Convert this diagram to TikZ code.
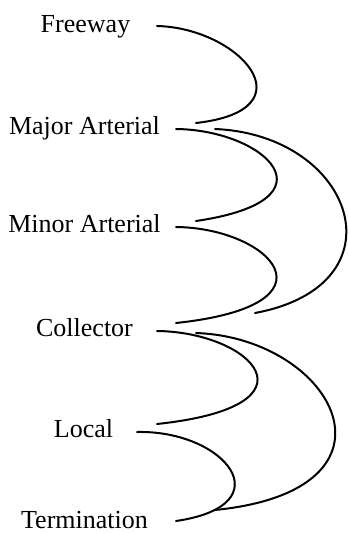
\documentclass[tikz,border=0pt]{standalone}
\usepackage{fontspec}
\setmainfont{Liberation Serif}
\begin{document}
\begin{tikzpicture}[x=1pt,y=-1pt,
  lbl/.style={anchor=base,inner sep=0pt,font=\fontsize{26}{30}\selectfont},
  link/.style={line width=2pt,line cap=round}]
\useasboundingbox (0,0) rectangle (348,534);
% labels
\node[lbl] (fw) at (85.5,33) {Freeway};
\node[lbl] (ma) at (84.5,135) {Major Arterial};
\node[lbl] (mi) at (84.5,233) {Minor Arterial};
\node[lbl] (co) at (84.5,336) {Collector};
\node[lbl] (lo) at (83.5,437) {Local};
\node[lbl] (te) at (84.5,528) {Termination};
% connector end points
\coordinate (fwR) at (157,26);
\coordinate (maIn) at (196,123);
\coordinate (maR) at (176,129);
\coordinate (maR2) at (215,129);
\coordinate (miIn) at (196,221);
\coordinate (miR) at (176,227);
\coordinate (coIn) at (176,323);
\coordinate (coIn2) at (255,313);
\coordinate (coR) at (157,331);
\coordinate (coR2) at (196,333);
\coordinate (loIn) at (157,424);
\coordinate (loR) at (137,432);
\coordinate (teIn) at (176,521);
\coordinate (teJ) at (215,510);
% connectors
\draw[link] (fwR) .. controls (240,28) and (312,110) .. (maIn);
\draw[link] (maR) .. controls (265,130) and (340,200) .. (miIn);
\draw[link] (maR2) .. controls (355,135) and (405,285) .. (coIn2);
\draw[link] (miR) .. controls (270,228) and (345,305) .. (coIn);
\draw[link] (coR) .. controls (251,332) and (326,406) .. (loIn);
\draw[link] (coR2) .. controls (335,338) and (415,490) .. (teJ);
\draw[link] (loR) .. controls (225,430) and (285,505) .. (teIn);
\end{tikzpicture}
\end{document}
